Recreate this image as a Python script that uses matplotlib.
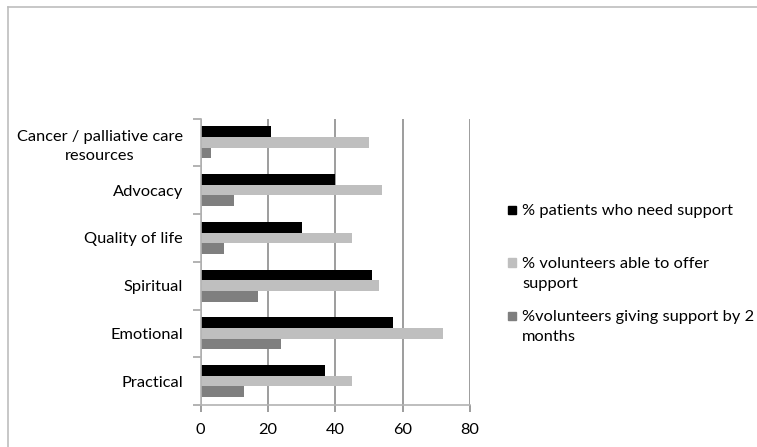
import matplotlib
matplotlib.use("Agg")
import matplotlib.pyplot as plt
from matplotlib.patches import Rectangle
from matplotlib.lines import Line2D
import numpy as np

plt.rcParams['font.family'] = ['Lato', 'DejaVu Sans']

categories = ["Practical", "Emotional", "Spiritual", "Quality of life",
              "Advocacy", "Cancer / palliative care\nresources"]
patients_need = [37, 57, 51, 30, 40, 21]
volunteers_able = [45, 72, 53, 45, 54, 50]
volunteers_giving = [13, 24, 17, 7, 10, 3]

series_labels = ["% patients who need support",
                 "% volunteers able to offer\nsupport",
                 "%volunteers giving support by 2\nmonths"]
series_colors = ["#000000", "#BFBFBF", "#7F7F7F"]
x_ticks = [0, 20, 40, 60, 80]

FS = 11.8
W, H = 757, 447
fig = plt.figure(figsize=(W / 100, H / 100), dpi=100)

# outer chart frame (top and left edges)
fig.add_artist(Line2D([7.5 / W, 1.0], [1 - 6.5 / H, 1 - 6.5 / H],
                      color="#BDBDBD", lw=1.2, transform=fig.transFigure))
fig.add_artist(Line2D([7.5 / W, 7.5 / W], [0, 1 - 6.5 / H],
                      color="#BDBDBD", lw=1.2, transform=fig.transFigure))

left, right = 200.5 / W, 470.0 / W
top, bottom = 1 - 118.5 / H, 1 - 405.0 / H
ax = fig.add_axes([left, bottom, right - left, top - bottom])

y = np.arange(len(categories))
bh = 0.225
series = [patients_need, volunteers_able, volunteers_giving]
offsets = [bh, 0.0, -bh]
for vals, off, col in zip(series, offsets, series_colors):
    ax.barh(y + off, vals, height=bh, color=col, zorder=3, linewidth=0)

ax.set_xlim(0, 80)
ax.set_ylim(-0.5, len(categories) - 0.5)
ax.set_xticks(x_ticks)
ax.set_xticklabels([str(t) for t in x_ticks], fontsize=FS, color="#000000")
ax.set_yticks(y)
ax.set_yticklabels(categories, fontsize=FS, color="#000000",
                   multialignment="center", linespacing=1.45)
ax.tick_params(axis="y", length=0, pad=12.5)
ax.tick_params(axis="x", length=5, width=1.2, color="#8C8C8C", pad=8)

# category boundary ticks on the value axis
ax.set_yticks(np.arange(-0.5, len(categories), 1.0), minor=True)
ax.tick_params(axis="y", which="minor", length=6, width=1.2, color="#A6A6A6")

ax.grid(axis="x", color="#8C8C8C", lw=1.2, zorder=0)
ax.grid(axis="y", visible=False)
for s in ["top", "right"]:
    ax.spines[s].set_visible(False)
for s in ["left", "bottom"]:
    ax.spines[s].set_color("#B3B3B3")
    ax.spines[s].set_linewidth(1.2)
    ax.spines[s].set_zorder(4)

# legend drawn as swatches with wrapped labels, swatch beside the first line
legend_centers = [210.0, 262.5, 316.0]
line_step = 20.0
for lab, col, yc in zip(series_labels, series_colors, legend_centers):
    sq = 8.3
    fig.add_artist(Rectangle(((512 - sq / 2) / W, 1 - (yc + sq / 2) / H),
                             sq / W, sq / H, color=col,
                             transform=fig.transFigure))
    for i, part in enumerate(lab.split("\n")):
        fig.text(522.0 / W, 1 - (yc + 5.3 + i * line_step) / H, part,
                 fontsize=FS, va="baseline", ha="left", color="#000000")

fig.savefig("out.png", dpi=100)
